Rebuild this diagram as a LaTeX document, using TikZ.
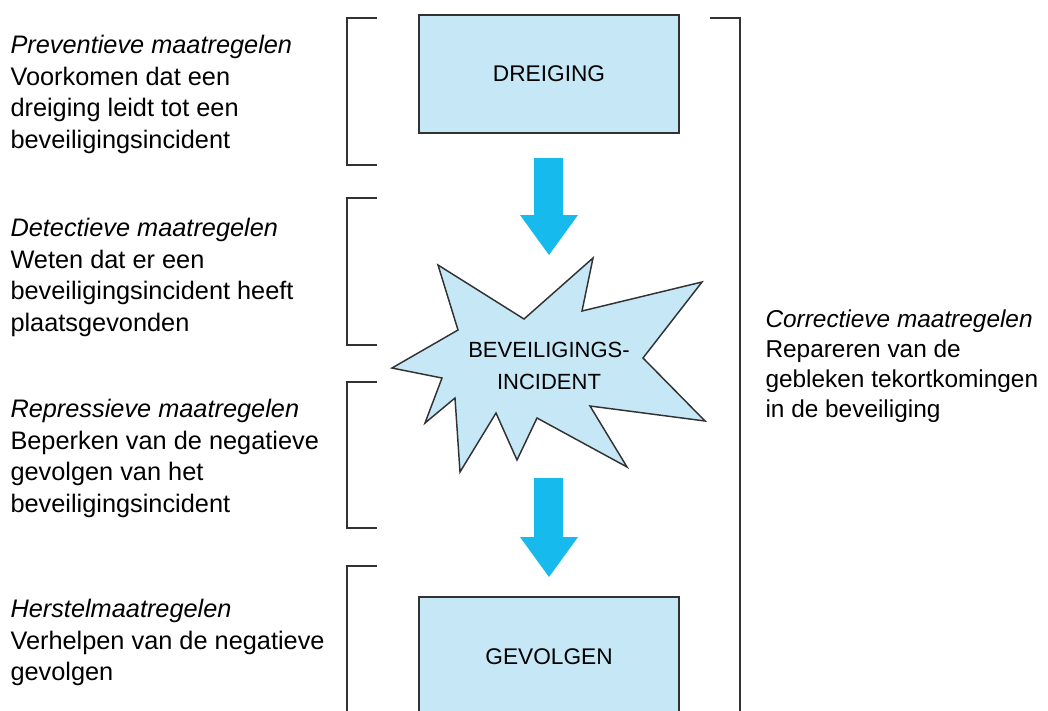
\documentclass[tikz,border=0pt]{standalone}
\usepackage{fontspec}
\setmainfont{Liberation Sans}

\definecolor{boxblue}{RGB}{198,231,246}
\definecolor{arrowblue}{RGB}{22,186,236}
\definecolor{linegray}{RGB}{50,50,50}

\tikzset{every picture/.style={line width=0.75pt}}
\tikzset{
  bracketline/.style={draw=linegray, line width=1.5pt},
  stepbox/.style={draw=linegray, fill=boxblue, line width=1.4pt, minimum width=195pt, minimum height=88.5pt, inner sep=0pt, font=\fontsize{17}{24}\selectfont},
  measuretext/.style={anchor=north west, inner sep=0pt, align=left, font=\fontsize{19}{23.6}\selectfont},
  flowarrow/.style={fill=arrowblue, draw=none}
}

\begin{document}
\begin{tikzpicture}[x=0.75pt,y=0.75pt,yscale=-1,xscale=1]
        \useasboundingbox (0,0) rectangle (1048,710);

        %Brackets left
        \draw [bracketline] (377,18) -- (347,18) -- (347,165) -- (377,165) ;
        \draw [bracketline] (377,198) -- (347,198) -- (347,345) -- (377,345) ;
        \draw [bracketline] (377,382) -- (347,382) -- (347,528) -- (377,528) ;
        \draw [bracketline] (377,566) -- (347,566) -- (347,720) ;
        %Bracket right
        \draw [bracketline] (710,18) -- (740,18) -- (740,720) ;

        %Shape: Rectangle
        \node [stepbox] (dreiging) at (549,74) {DREIGING};
        %Shape: Rectangle
        \node [stepbox] (gevolgen) at (549,656) {};
        \node [font=\fontsize{17}{24}\selectfont] (gevolgentext) at (549,657) {GEVOLGEN};

        %Shape: Star
        \draw [draw=linegray, fill=boxblue, line width=1.1pt, line join=miter] (438,265) -- (524,319) -- (593,258) -- (582,311) -- (702,282) -- (643,358) -- (705,421) -- (590,406) -- (627,467) -- (537,418) -- (517,460) -- (496,413) -- (460,472) -- (455,398) -- (425,423) -- (442,378) -- (392,368) -- (458,330) -- cycle ;
        \node [align=center, inner sep=0pt, font=\fontsize{16.5}{24}\selectfont] (incident) at (549,366) {BEVEILIGINGS-\\INCIDENT};

        %Block arrows
        \fill [flowarrow] (534,158) -- (563,158) -- (563,215) -- (578,215) -- (549,255) -- (520,215) -- (534,215) -- cycle ;
        \fill [flowarrow] (534,478) -- (563,478) -- (563,537) -- (578,537) -- (549,577) -- (520,537) -- (534,537) -- cycle ;

        % Text Node
        \node [measuretext] (preventief) at (10,35) {\textit{Preventieve maatregelen}\\Voorkomen dat een\\dreiging leidt tot een\\beveiligingsincident};
        % Text Node
        \node [measuretext] (detectief) at (10,218) {\textit{Detectieve maatregelen}\\Weten dat er een\\beveiligingsincident heeft\\plaatsgevonden};
        % Text Node
        \node [measuretext] (repressief) at (10,399) {\textit{Repressieve maatregelen}\\Beperken van de negatieve\\gevolgen van het\\beveiligingsincident};
        % Text Node
        \node [measuretext] (herstel) at (10,599) {\textit{Herstelmaatregelen}\\Verhelpen van de negatieve\\gevolgen};
        % Text Node
        \node [measuretext, font=\fontsize{18.3}{22.5}\selectfont] (correctief) at (765,309) {\textit{Correctieve maatregelen}\\Repareren van de\\gebleken tekortkomingen\\in de beveiliging};

    \end{tikzpicture}
\end{document}
